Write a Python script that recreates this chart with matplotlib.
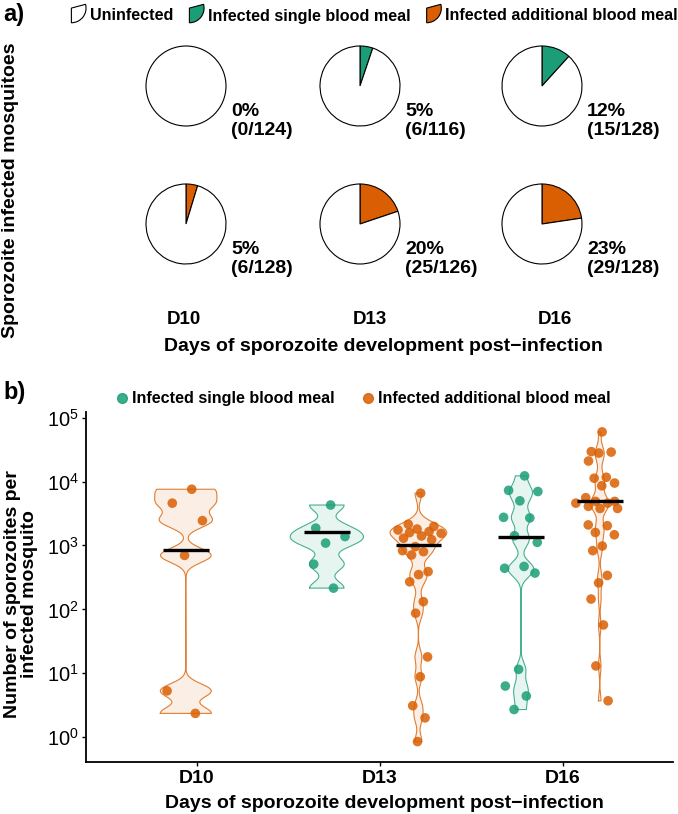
import numpy as np
import matplotlib
matplotlib.use("Agg")
import matplotlib.pyplot as plt
from matplotlib.patches import Wedge, Patch
from matplotlib.lines import Line2D
from matplotlib.legend_handler import HandlerPatch
from matplotlib.ticker import FixedLocator, LogFormatterSciNotation, NullLocator

plt.rcParams['font.family'] = ['Liberation Sans', 'DejaVu Sans']
plt.rcParams['mathtext.fontset'] = 'custom'
plt.rcParams['mathtext.rm'] = 'Liberation Sans'

W, H = 678, 814
GREEN = '#1B9E77'
ORANGE = '#D95F02'

# ---- panel a: proportion of sporozoite infected mosquitoes ----
days = ['D10', 'D13', 'D16']
single_infected = [0, 6, 15]
single_total = [124, 116, 128]
additional_infected = [6, 25, 29]
additional_total = [128, 126, 128]

# ---- panel b: sporozoites per infected mosquito ----
d10_additional = [7600, 4600, 2450, 700, 5.3, 2.35]
d13_single = [4300, 1870, 1380, 1090, 510, 215]
d13_additional = [6600, 2150, 1990, 1810, 1750, 1650, 1590, 1550, 1410, 1300,
                  1230, 960, 830, 800, 710, 390, 350, 270, 132, 87,
                  18, 8.8, 3.1, 2.0, 0.85]
d16_single = [12300, 7300, 7000, 5000, 2760, 2700, 1420, 1120, 470, 440,
              370, 11.5, 6.3, 4.4, 2.7]
d16_additional = [60000, 29500, 29000, 28000, 21000, 11700, 11300, 9500, 8600, 5600,
                  4900, 4900, 4600, 4600, 4100, 3800, 3800, 2100, 2040, 1600,
                  1470, 980, 830, 340, 260, 145, 57, 13, 3.7]
# horizontal bars as drawn in the figure
central_lines = [850, 1630, 1000, 1350, 4900]

fig = plt.figure(figsize=(W / 100, H / 100), dpi=100)

# overlay axes in pixel units for the pies
ax_a = fig.add_axes([0, 0, 1, 1], zorder=0)


def py(y):
    return H - y


pie_x = [186, 360, 542]
pie_y = [86, 224]
pie_r = 40
rows = [(single_infected, single_total, GREEN), (additional_infected, additional_total, ORANGE)]
for r, (inf, tot, col) in enumerate(rows):
    for i in range(len(days)):
        vals = [inf[i], tot[i] - inf[i]]
        cols = [col, 'white']
        keep = [k for k in range(2) if vals[k] > 0]
        ax_a.pie([vals[k] for k in keep], colors=[cols[k] for k in keep],
                 startangle=90, counterclock=False,
                 center=(pie_x[i], py(pie_y[r])), radius=pie_r,
                 wedgeprops=dict(edgecolor='black', linewidth=0.8))
        pct = round(100 * inf[i] / tot[i])
        ax_a.text(pie_x[i] + 45, py(pie_y[r] + 35), f"{pct}%\n({inf[i]}/{tot[i]})",
                  ha='left', va='center', fontsize=14, fontweight='bold', linespacing=1.2)
ax_a.set_xlim(0, W)
ax_a.set_ylim(0, H)
ax_a.axis('off')

for x, d in zip([184, 370, 555], days):
    fig.text(x / W, 1 - 319 / H, d, ha='center', va='center', fontsize=13.5, fontweight='bold')
fig.text(383 / W, 1 - 347 / H, 'Days of sporozoite development post\u2212infection',
         ha='center', va='center', fontsize=14, fontweight='bold')
fig.text(11 / W, 1 - 190 / H, 'Sporozoite infected mosquitoes', rotation=90,
         ha='center', va='center', fontsize=14, fontweight='bold')
fig.text(3 / W, 1 - 14 / H, 'a)', ha='left', va='center', fontsize=17, fontweight='bold')
fig.text(3 / W, 1 - 392 / H, 'b)', ha='left', va='center', fontsize=17, fontweight='bold')


class WedgeHandler(HandlerPatch):
    def create_artists(self, legend, orig_handle, xdescent, ydescent, width, height, fontsize, trans):
        r = height * 1.3
        w = Wedge((-xdescent + 1, -ydescent + height * 1.1), r, -90, 15,
                  facecolor=orig_handle.get_facecolor(), edgecolor='black',
                  linewidth=0.8, transform=trans)
        return [w]


fig.legend(handles=[Patch(facecolor='white'), Patch(facecolor=GREEN), Patch(facecolor=ORANGE)],
           labels=['Uninfected', 'Infected single blood meal', 'Infected additional blood meal'],
           ncol=3, loc='center left', bbox_to_anchor=(70 / W, 1 - 16 / H), frameon=False,
           handler_map={Patch: WedgeHandler()}, handlelength=0.8, handletextpad=0.45,
           columnspacing=0.9, borderpad=0, borderaxespad=0,
           prop={'weight': 'bold', 'size': 11.6})

# ---- panel b ----
ax = fig.add_axes([86 / W, 1 - 762 / H, (673 - 86) / W, (762 - 412) / H], zorder=1)
ax.set_facecolor('none')

groups = [(0, d10_additional, ORANGE), (1, d13_single, GREEN), (1, d13_additional, ORANGE),
          (2, d16_single, GREEN), (2, d16_additional, ORANGE)]
offsets = [-0.06, -0.29, 0.21, -0.23, 0.20]
widths = [0.34, 0.40, 0.31, 0.14, 0.10]
bw = 0.11

for (day, vals, col), off, wd, mid in zip(groups, offsets, widths, central_lines):
    x = day + 1 + off
    logv = np.log10(vals)
    grid = np.linspace(logv.min(), logv.max(), 400)
    dens = np.exp(-0.5 * ((grid[:, None] - logv[None, :]) / bw) ** 2).sum(axis=1)
    half = dens / dens.max() * wd / 2
    ax.fill_betweenx(10 ** grid, x - half, x + half, facecolor=col, alpha=0.1,
                     edgecolor='none', zorder=2)
    ax.plot(np.r_[x - half, (x + half)[::-1], x - half[0]],
            10 ** np.r_[grid, grid[::-1], grid[0]], color=col, lw=0.8, alpha=0.8, zorder=2)
    # jitter points sideways, a little wider in the crowded parts
    dpt = np.exp(-0.5 * ((logv[:, None] - logv[None, :]) / bw) ** 2).sum(axis=1)
    dpt = dpt / dpt.max()
    u = ((np.arange(len(vals)) + 1) * 0.6180339887) % 1 * 2 - 1
    xj = x + u * (0.04 + 0.1 * dpt)
    ax.scatter(xj, vals, s=48, color=col, alpha=0.85, edgecolors='none', zorder=3)
    ax.plot([x - 0.125, x + 0.125], [mid, mid], color='black', lw=2.4,
            solid_capstyle='butt', zorder=4)

ax.set_yscale('log')
ax.set_ylim(10 ** -0.39, 10 ** 5.09)
ax.set_xlim(0.395, 3.6)
ax.yaxis.set_major_locator(FixedLocator([1, 10, 100, 1e3, 1e4, 1e5]))
ax.yaxis.set_major_formatter(LogFormatterSciNotation())
ax.yaxis.set_minor_locator(NullLocator())
ax.set_xticks([1, 2, 3])
ax.set_xticklabels(days, fontweight='bold', fontsize=14)
ax.tick_params(axis='y', labelsize=14.5, length=3, width=1, pad=2)
ax.tick_params(axis='x', length=3, width=1, pad=3)
for s in ['top', 'right']:
    ax.spines[s].set_visible(False)
for s in ['left', 'bottom']:
    ax.spines[s].set_linewidth(1.3)

fig.text(21 / W, 1 - 594 / H, 'Number of sporozoites per\ninfected mosquito', rotation=90,
         ha='center', va='center', fontsize=14, fontweight='bold', multialignment='center',
         linespacing=1.05)
fig.text(384 / W, 1 - 803 / H, 'Days of sporozoite development post\u2212infection',
         ha='center', va='center', fontsize=14, fontweight='bold')

fig.legend(handles=[Line2D([], [], marker='o', ls='', color=GREEN, alpha=0.85, markersize=7),
                    Line2D([], [], marker='o', ls='', color=ORANGE, alpha=0.85, markersize=7)],
           labels=['Infected single blood meal', 'Infected additional blood meal'],
           ncol=2, loc='center left', bbox_to_anchor=(116 / W, 1 - 399 / H), frameon=False,
           handlelength=0.7, handletextpad=0.3, columnspacing=1.7, borderpad=0,
           borderaxespad=0, prop={'weight': 'bold', 'size': 11.6})

fig.savefig('out.png', dpi=100)
